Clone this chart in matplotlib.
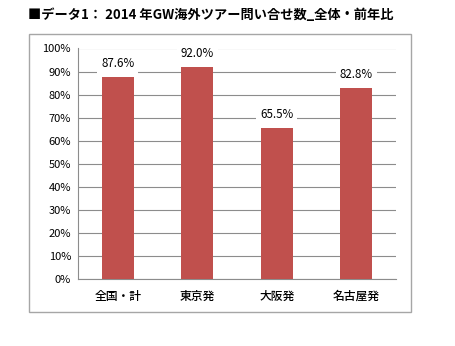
import matplotlib
matplotlib.use("Agg")
import matplotlib.pyplot as plt
from matplotlib.patches import Rectangle
from matplotlib.ticker import PercentFormatter

plt.rcParams['font.family'] = ['Noto Sans CJK JP', 'DejaVu Sans']

categories = ["全国・計", "東京発", "大阪発", "名古屋発"]
values = [87.6, 92.0, 65.5, 82.8]
title = "■データ1： 2014 年GW海外ツアー問い合せ数_全体・前年比"

W, H = 456, 346
fig = plt.figure(figsize=(W / 100, H / 100), dpi=100)

# outer frame
fig.patches.append(Rectangle((29 / W, 1 - 312 / H), (411 - 29) / W, (312 - 34) / H,
                             transform=fig.transFigure, fill=False,
                             edgecolor="#a6a6a6", linewidth=1.0))

fig.text(28 / W, 1 - 15 / H, title, fontsize=9.5, fontweight="bold",
         va="center", ha="left", color="black")

ax = fig.add_axes([78 / W, 1 - 279 / H, (396 - 78) / W, (279 - 48.5) / H])
x = range(len(categories))
ax.bar(x, values, width=0.4, color="#C0504D", zorder=3)
ax.set_xlim(-0.5, len(categories) - 0.5)
ax.set_ylim(0, 100)
ax.set_yticks(range(0, 101, 10))
ax.yaxis.set_major_formatter(PercentFormatter(decimals=0))
ax.set_xticks(list(x))
ax.set_xticklabels(categories, fontsize=8.5, fontweight="medium")
ax.tick_params(axis="y", labelsize=8, length=0, pad=5)
ax.tick_params(axis="x", length=0, pad=8)
ax.grid(axis="y", color="#8c8c8c", linewidth=0.8, zorder=0)
for s in ["top", "right"]:
    ax.spines[s].set_visible(False)
for s in ["left", "bottom"]:
    ax.spines[s].set_color("#8c8c8c")
    ax.spines[s].set_linewidth(0.8)

for i, v in enumerate(values):
    ax.annotate(f"{v:.1f}%", (i, v), xytext=(0, 9.5), textcoords="offset points",
                ha="center", va="center", fontsize=8.3,
                bbox=dict(boxstyle="square,pad=0.35", fc="white", ec="none"),
                zorder=4)

fig.savefig("out.png", dpi=100)
